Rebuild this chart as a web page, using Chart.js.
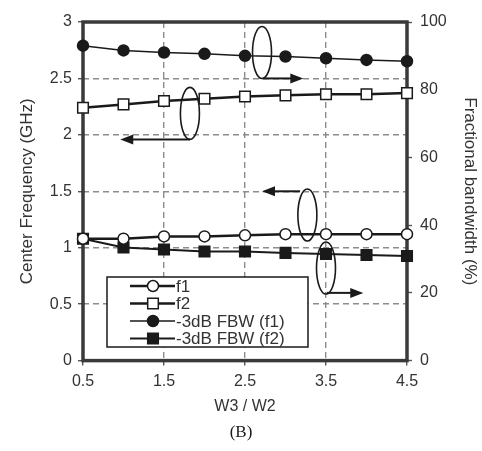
<!DOCTYPE html>
<html>
<head>
<meta charset="utf-8">
<title>Center frequency and FBW vs W3/W2</title>
<script src="https://cdn.jsdelivr.net/npm/chart.js"></script>
<style>
  html, body { margin: 0; padding: 0; background: #fff; }
</style>
</head>
<body>
<canvas id="chart" width="482" height="451"></canvas>
<script>
// values
const ratio = [0.5, 1, 1.5, 2, 2.5, 3, 3.5, 4, 4.5];
const xTicks = [0.5, 1.5, 2.5, 3.5, 4.5];
const f1 = [1.08, 1.08, 1.10, 1.10, 1.11, 1.12, 1.12, 1.12, 1.12];
const f2 = [2.24, 2.27, 2.30, 2.32, 2.34, 2.35, 2.36, 2.36, 2.37];
const fbwF1 = [93.0, 91.6, 91.0, 90.6, 90.0, 89.8, 89.3, 88.8, 88.4];
const fbwF2 = [36.0, 33.4, 32.8, 32.2, 32.2, 31.8, 31.5, 31.2, 30.9];
const labels = ["f1", "f2", "-3dB FBW (f1)", "-3dB FBW (f2)"];

const INK = "#1a1a1a";
const TEXT = "#333";

Chart.defaults.font.family = "'Liberation Sans', Arial, sans-serif";
Chart.defaults.color = TEXT;

const pts = (arr) => ratio.map((x, i) => ({ x, y: arr[i] }));

// ellipses + arrows, given in data units of x / left axis
const notes = [
  { ex: 2.71, ey: 2.73, ax0: 2.72, ax1: 3.22, ay: 2.50 },
  { ex: 1.82, ey: 2.19, ax0: 1.82, ax1: 0.96, ay: 1.96 },
  { ex: 3.27, ey: 1.29, ax0: 3.18, ax1: 2.71, ay: 1.50 },
  { ex: 3.50, ey: 0.82, ax0: 3.51, ax1: 3.96, ay: 0.60 },
];

const frame = {
  id: "frame",
  beforeDatasetsDraw(chart) {
    const { ctx, chartArea: a } = chart;
    ctx.save();
    ctx.strokeStyle = "#3a3a3a";
    ctx.lineWidth = 3.5;
    ctx.strokeRect(a.left, a.top, a.right - a.left, a.bottom - a.top);
    ctx.restore();
  },
};

const marks = {
  id: "marks",
  afterDatasetsDraw(chart) {
    const { ctx, scales } = chart;
    const X = (v) => scales.x.getPixelForValue(v);
    const Y = (v) => scales.y.getPixelForValue(v);
    ctx.save();
    ctx.strokeStyle = INK;
    ctx.fillStyle = INK;
    notes.forEach((n) => {
      ctx.lineWidth = 1.6;
      ctx.beginPath();
      ctx.ellipse(X(n.ex), Y(n.ey), 9.5, 26, 0, 0, Math.PI * 2);
      ctx.stroke();
      const x0 = X(n.ax0), x1 = X(n.ax1), y = Y(n.ay);
      const dir = Math.sign(x1 - x0);
      ctx.lineWidth = 2;
      ctx.beginPath();
      ctx.moveTo(x0, y);
      ctx.lineTo(x1 - dir * 10, y);
      ctx.stroke();
      ctx.beginPath();
      ctx.moveTo(x1, y);
      ctx.lineTo(x1 - dir * 13, y - 5);
      ctx.lineTo(x1 - dir * 13, y + 5);
      ctx.closePath();
      ctx.fill();
    });
    ctx.restore();
  },
};

function marker(ctx, style, filled, r, x, y) {
  ctx.beginPath();
  if (style === "circle") {
    ctx.arc(x, y, r, 0, Math.PI * 2);
  } else {
    const s = r * Math.SQRT1_2;
    ctx.rect(x - s, y - s, 2 * s, 2 * s);
  }
  ctx.fillStyle = filled ? INK : "#fff";
  ctx.fill();
  ctx.lineWidth = 1.5;
  ctx.strokeStyle = INK;
  ctx.stroke();
}

const boxLegend = {
  id: "boxLegend",
  afterDraw(chart) {
    const { ctx, chartArea: a } = chart;
    const left = a.left + 24, top = a.top + 255, w = 201, h = 70;
    ctx.save();
    ctx.fillStyle = "#fff";
    ctx.fillRect(left, top, w, h);
    ctx.strokeStyle = INK;
    ctx.lineWidth = 1.5;
    ctx.strokeRect(left, top, w, h);
    ctx.font = "17px 'Liberation Sans', Arial, sans-serif";
    ctx.textBaseline = "middle";
    chart.data.datasets.forEach((ds, i) => {
      const y = top + 9 + i * 17.5;
      const lx = left + 23;
      ctx.strokeStyle = INK;
      ctx.lineWidth = ds.borderWidth;
      ctx.beginPath();
      ctx.moveTo(lx, y);
      ctx.lineTo(lx + 45, y);
      ctx.stroke();
      marker(ctx, ds.pointStyle, ds.pointBackgroundColor !== "#fff", ds.pointRadius, lx + 23, y);
      ctx.fillStyle = TEXT;
      ctx.fillText(ds.label, lx + 46, y + 1);
    });
    ctx.restore();
  },
};

const lineSet = (label, data, axis, style, filled, width, radius) => ({
  label,
  data: pts(data),
  yAxisID: axis,
  borderColor: INK,
  borderWidth: width,
  pointStyle: style,
  pointRadius: radius,
  pointHoverRadius: radius,
  pointBackgroundColor: filled ? INK : "#fff",
  pointBorderColor: INK,
  pointBorderWidth: 1.5,
  tension: 0,
  clip: false,
});

const gridOpts = { color: "#8c8c8c", lineWidth: 1.4, tickLength: 5, tickColor: "#555", tickWidth: 1.4 };

new Chart(document.getElementById("chart"), {
  type: "line",
  data: {
    datasets: [
      lineSet(labels[0], f1, "y", "circle", false, 2.5, 5.5),
      lineSet(labels[1], f2, "y", "rect", false, 2.5, 7.5),
      lineSet(labels[2], fbwF1, "y2", "circle", true, 1.5, 5.5),
      lineSet(labels[3], fbwF2, "y2", "rect", true, 2, 7.5),
    ],
  },
  options: {
    responsive: false,
    animation: false,
    devicePixelRatio: 1,
    layout: { padding: { top: 22, left: 0, right: 0, bottom: 0 } },
    plugins: {
      legend: { display: false },
      tooltip: { enabled: false },
      title: {
        display: true,
        position: "bottom",
        text: "(B)",
        color: INK,
        font: { family: "'Liberation Serif', 'Times New Roman', serif", size: 17, weight: "normal" },
        padding: { top: 6, bottom: 8 },
      },
    },
    scales: {
      x: {
        type: "linear",
        min: 0.5,
        max: 4.5,
        afterBuildTicks: (s) => { s.ticks = xTicks.map((v) => ({ value: v })); },
        afterFit: (s) => { s.height = 56; },
        ticks: { font: { size: 16 }, padding: 6, callback: (v) => v.toFixed(1) },
        grid: gridOpts,
        border: { display: false, dash: [6, 4] },
        title: { display: true, text: "W3 / W2", font: { size: 16 }, padding: { top: 0, bottom: 0 } },
      },
      y: {
        position: "left",
        min: 0,
        max: 3,
        afterFit: (s) => { s.width = 83; },
        ticks: { stepSize: 0.5, font: { size: 16 }, padding: 6, callback: (v) => String(+v.toFixed(1)) },
        grid: gridOpts,
        border: { display: false, dash: [6, 4] },
        title: { display: true, text: "Center Frequency (GHz)", font: { size: 17 }, padding: { top: 17, bottom: 0 } },
      },
      y2: {
        position: "right",
        min: 0,
        max: 100,
        afterFit: (s) => { s.width = 75; },
        ticks: { stepSize: 20, font: { size: 16 }, padding: 8 },
        grid: { drawOnChartArea: false, tickLength: 5, tickColor: "#555", tickWidth: 1.4 },
        border: { display: false },
        title: { display: true, text: "Fractional bandwidth (%)", font: { size: 17 }, padding: { top: 2, bottom: 0 } },
      },
    },
  },
  plugins: [frame, marks, boxLegend],
});
</script>
</body>
</html>
